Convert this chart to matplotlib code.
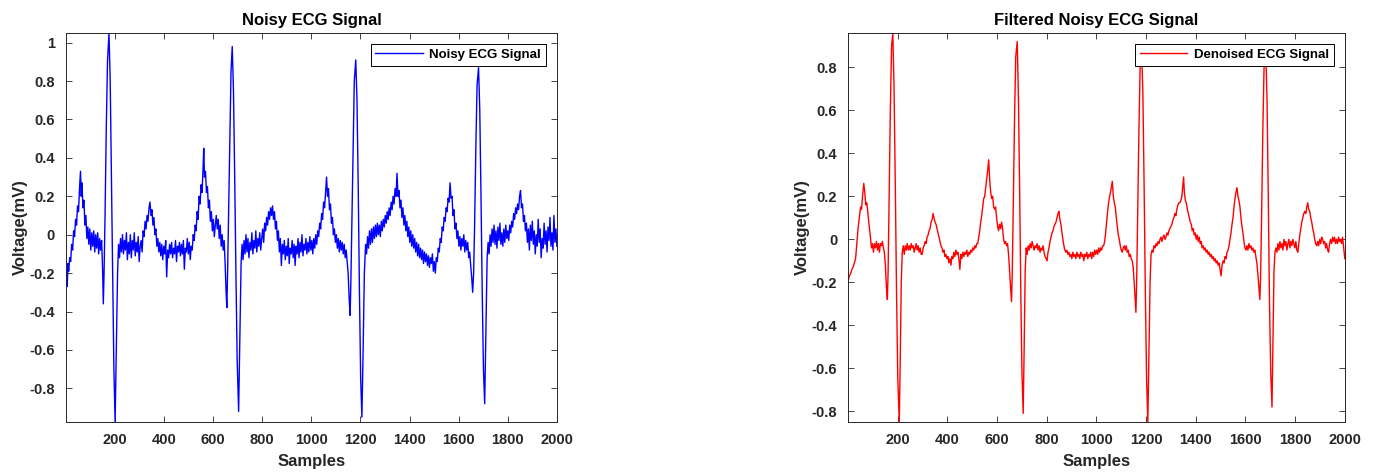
import matplotlib
matplotlib.use("Agg")
import matplotlib.pyplot as plt
from matplotlib.ticker import FormatStrFormatter

plt.rcParams['font.family'] = ['Liberation Sans', 'DejaVu Sans']
plt.rcParams['font.weight'] = 'bold'
plt.rcParams['axes.unicode_minus'] = False

# ---- noisy ECG (sample, mV) ----
noisy_pts = [
    (1, -0.16), (4, -0.22), (6, -0.27), (9, -0.15), (12, -0.19), (16, -0.12), (20, -0.14), (24, -0.05),
    (28, -0.08), (32, 0.02), (36, -0.01), (40, 0.08), (44, 0.05), (48, 0.15), (52, 0.12), (56, 0.24),
    (60, 0.33), (63, 0.2), (66, 0.27), (70, 0.14), (74, 0.18), (78, 0.05), (82, 0.1), (86, -0.02),
    (90, 0.04), (94, -0.05), (98, 0.03), (102, -0.08), (106, 0.01), (110, -0.06), (114, 0.02), (118, -0.09),
    (122, 0.0), (126, -0.07), (130, 0.01), (134, -0.1), (138, -0.02), (142, -0.08), (146, -0.03), (150, -0.18),
    (153, -0.36), (156, -0.2), (160, 0.1), (165, 0.55), (170, 0.9), (176, 1.05), (181, 0.8), (186, 0.3),
    (191, -0.2), (196, -0.7), (201, -0.975), (206, -0.6), (211, -0.2), (215, -0.05), (219, -0.12), (223, -0.02),
    (227, -0.09), (231, 0.0), (235, -0.1), (239, -0.03), (243, -0.08), (247, 0.01), (251, -0.13), (255, -0.04),
    (259, -0.1), (263, 0.0), (267, -0.12), (271, -0.03), (275, -0.08), (279, 0.01), (283, -0.11), (287, -0.04),
    (291, -0.09), (295, -0.01), (299, -0.14), (303, -0.06), (307, -0.03), (311, -0.09), (315, 0.02), (319, -0.01),
    (323, 0.07), (327, 0.03), (331, 0.1), (335, 0.07), (339, 0.14), (343, 0.17), (347, 0.1), (351, 0.13),
    (355, 0.05), (359, 0.09), (363, 0.0), (367, 0.03), (371, -0.06), (375, -0.02), (379, -0.09), (383, -0.04),
    (387, -0.11), (391, -0.05), (395, -0.13), (399, -0.06), (403, -0.1), (407, -0.03), (411, -0.22), (415, -0.08),
    (419, -0.12), (423, -0.05), (427, -0.1), (431, -0.04), (435, -0.12), (439, -0.07), (443, -0.1), (447, -0.03),
    (451, -0.14), (455, -0.06), (459, -0.09), (463, -0.04), (467, -0.11), (471, -0.05), (475, -0.1), (479, -0.03),
    (483, -0.18), (487, -0.07), (491, -0.09), (495, -0.02), (499, -0.1), (503, -0.04), (507, -0.13), (511, -0.06),
    (515, -0.08), (519, 0.0), (523, -0.03), (527, 0.05), (531, 0.02), (535, 0.12), (539, 0.08), (543, 0.2),
    (547, 0.16), (551, 0.26), (555, 0.22), (559, 0.34), (562, 0.45), (565, 0.3), (569, 0.33), (573, 0.22),
    (577, 0.25), (581, 0.14), (585, 0.18), (589, 0.07), (593, 0.12), (597, 0.02), (601, 0.08), (605, -0.01),
    (609, 0.05), (613, 0.1), (617, 0.03), (621, 0.08), (625, -0.02), (629, 0.05), (633, -0.06), (637, 0.0),
    (641, -0.08), (645, -0.03), (649, -0.15), (653, -0.3), (656, -0.38), (659, -0.2), (663, 0.1), (668, 0.5),
    (673, 0.85), (678, 0.98), (683, 0.75), (688, 0.3), (693, -0.2), (698, -0.65), (704, -0.92), (709, -0.55),
    (714, -0.15), (718, -0.05), (722, -0.13), (726, -0.03), (730, -0.1), (734, 0.0), (738, -0.09), (742, -0.02),
    (746, -0.12), (750, -0.04), (754, -0.08), (758, 0.01), (762, -0.1), (766, -0.03), (770, -0.07), (774, 0.02),
    (778, -0.09), (782, -0.02), (786, -0.06), (790, 0.01), (794, -0.08), (798, -0.02), (802, 0.03), (806, -0.04),
    (810, 0.06), (814, 0.02), (818, 0.09), (822, 0.05), (826, 0.12), (830, 0.08), (834, 0.14), (838, 0.1),
    (842, 0.15), (846, 0.08), (850, 0.12), (854, 0.03), (858, 0.07), (862, -0.03), (866, 0.02), (870, -0.09),
    (874, -0.02), (878, -0.16), (882, -0.05), (886, -0.1), (890, -0.03), (894, -0.13), (898, -0.06), (902, -0.11),
    (906, -0.02), (910, -0.15), (914, -0.07), (918, -0.1), (922, -0.03), (926, -0.12), (930, -0.05), (934, -0.16),
    (938, -0.06), (942, -0.1), (946, -0.02), (950, -0.12), (954, -0.04), (958, -0.09), (962, 0.0), (966, -0.11),
    (970, -0.05), (974, -0.08), (978, -0.02), (982, -0.1), (986, -0.04), (990, -0.09), (994, -0.01), (998, -0.08),
    (1002, -0.03), (1006, -0.1), (1010, -0.02), (1014, -0.07), (1018, 0.0), (1022, -0.05), (1026, 0.02), (1030, -0.01),
    (1034, 0.06), (1038, 0.03), (1042, 0.11), (1046, 0.08), (1050, 0.17), (1054, 0.14), (1058, 0.22), (1062, 0.3),
    (1066, 0.2), (1070, 0.24), (1074, 0.13), (1078, 0.16), (1082, 0.06), (1086, 0.09), (1090, 0.0), (1094, 0.03),
    (1098, -0.04), (1102, 0.0), (1106, -0.07), (1110, -0.02), (1114, -0.09), (1118, -0.03), (1122, -0.08), (1126, -0.04),
    (1130, -0.1), (1134, -0.05), (1138, -0.12), (1142, -0.08), (1146, -0.14), (1150, -0.2), (1154, -0.33), (1158, -0.42),
    (1161, -0.25), (1165, 0.05), (1170, 0.45), (1175, 0.8), (1181, 0.91), (1186, 0.7), (1191, 0.25), (1196, -0.3),
    (1201, -0.75), (1206, -0.95), (1211, -0.6), (1216, -0.2), (1221, -0.05), (1225, -0.1), (1229, -0.01), (1233, -0.07),
    (1237, 0.02), (1241, -0.05), (1245, 0.03), (1249, -0.04), (1253, 0.04), (1257, -0.02), (1261, 0.05), (1265, -0.01),
    (1269, 0.06), (1273, 0.0), (1277, 0.05), (1281, -0.01), (1285, 0.07), (1289, 0.02), (1293, 0.08), (1297, 0.04),
    (1301, 0.1), (1305, 0.06), (1309, 0.12), (1313, 0.08), (1317, 0.14), (1321, 0.1), (1325, 0.17), (1329, 0.13),
    (1333, 0.2), (1337, 0.16), (1341, 0.24), (1345, 0.2), (1349, 0.32), (1353, 0.2), (1357, 0.23), (1361, 0.14),
    (1365, 0.18), (1369, 0.09), (1373, 0.14), (1377, 0.05), (1381, 0.1), (1385, 0.02), (1389, 0.07), (1393, -0.01),
    (1397, 0.04), (1401, -0.04), (1405, 0.02), (1409, -0.06), (1413, 0.0), (1417, -0.07), (1421, -0.02), (1425, -0.09),
    (1429, -0.04), (1433, -0.11), (1437, -0.05), (1441, -0.12), (1445, -0.07), (1449, -0.13), (1453, -0.08), (1457, -0.15),
    (1461, -0.09), (1465, -0.14), (1469, -0.1), (1473, -0.16), (1477, -0.11), (1481, -0.17), (1485, -0.12), (1489, -0.15),
    (1493, -0.1), (1497, -0.19), (1501, -0.14), (1505, -0.2), (1509, -0.12), (1513, -0.14), (1517, -0.07), (1521, -0.09),
    (1525, -0.02), (1529, -0.04), (1533, 0.04), (1537, 0.02), (1541, 0.09), (1545, 0.07), (1549, 0.14), (1553, 0.12),
    (1557, 0.19), (1561, 0.17), (1565, 0.27), (1569, 0.19), (1573, 0.2), (1577, 0.1), (1581, 0.13), (1585, 0.03),
    (1589, 0.06), (1593, -0.02), (1597, 0.02), (1601, -0.06), (1605, -0.01), (1609, -0.08), (1613, -0.02), (1617, -0.06),
    (1621, 0.0), (1625, -0.09), (1629, -0.03), (1633, -0.08), (1637, -0.04), (1641, -0.12), (1645, -0.09), (1649, -0.16),
    (1653, -0.22), (1657, -0.3), (1661, -0.2), (1665, 0.05), (1670, 0.45), (1675, 0.78), (1681, 0.87), (1686, 0.65),
    (1691, 0.2), (1696, -0.3), (1701, -0.7), (1706, -0.88), (1711, -0.5), (1716, -0.12), (1720, -0.04), (1724, -0.1),
    (1728, 0.0), (1732, -0.06), (1736, 0.03), (1740, -0.04), (1744, 0.05), (1748, -0.05), (1752, 0.02), (1756, -0.07),
    (1760, 0.04), (1764, -0.03), (1768, 0.06), (1772, -0.05), (1776, 0.01), (1780, -0.06), (1784, 0.03), (1788, -0.04),
    (1792, 0.05), (1796, -0.02), (1800, 0.02), (1804, -0.03), (1808, 0.05), (1812, 0.01), (1816, 0.07), (1820, 0.04),
    (1824, 0.11), (1828, 0.08), (1832, 0.14), (1836, 0.11), (1840, 0.16), (1844, 0.13), (1848, 0.2), (1852, 0.23),
    (1856, 0.14), (1860, 0.16), (1864, 0.07), (1868, 0.1), (1872, 0.02), (1876, 0.06), (1880, -0.04), (1884, 0.03),
    (1888, -0.08), (1892, 0.05), (1896, -0.03), (1900, 0.07), (1904, -0.05), (1908, 0.02), (1912, -0.1), (1916, 0.0),
    (1920, -0.06), (1924, 0.08), (1928, -0.04), (1932, 0.03), (1936, -0.12), (1940, -0.02), (1944, -0.07), (1948, 0.06),
    (1952, -0.05), (1956, 0.02), (1960, -0.09), (1964, 0.04), (1968, -0.03), (1972, 0.09), (1976, -0.06), (1980, 0.01),
    (1984, -0.08), (1988, 0.1), (1992, -0.04), (1996, 0.03), (2000, -0.06),
]

# ---- denoised ECG (sample, mV) ----
denoised_pts = [
    (1, -0.19), (5, -0.17), (10, -0.16), (15, -0.14), (20, -0.13), (25, -0.11), (30, -0.09), (35, -0.02),
    (40, 0.05), (45, 0.1), (50, 0.15), (54, 0.14), (58, 0.2), (63, 0.26), (67, 0.22), (71, 0.16),
    (75, 0.17), (79, 0.13), (84, 0.07), (89, 0.02), (94, -0.04), (98, -0.02), (102, -0.06), (106, -0.02),
    (110, -0.04), (114, -0.01), (118, -0.05), (122, -0.02), (126, -0.06), (130, -0.02), (134, -0.03), (138, -0.01),
    (142, -0.04), (146, -0.06), (150, -0.12), (154, -0.22), (158, -0.28), (161, -0.15), (165, 0.2), (170, 0.6),
    (175, 0.9), (180, 0.96), (185, 0.7), (190, 0.25), (195, -0.25), (200, -0.65), (206, -0.85), (210, -0.55),
    (214, -0.2), (218, -0.06), (222, -0.03), (226, -0.07), (230, -0.03), (234, -0.05), (238, -0.02), (242, -0.05),
    (246, -0.03), (250, -0.05), (254, -0.02), (258, -0.04), (262, -0.03), (266, -0.06), (270, -0.04), (274, -0.02),
    (278, -0.05), (282, -0.03), (286, -0.06), (290, -0.04), (294, -0.07), (298, -0.07), (302, -0.04), (306, -0.03),
    (310, -0.01), (314, -0.02), (318, 0.01), (322, 0.02), (326, 0.04), (330, 0.05), (334, 0.08), (338, 0.09),
    (342, 0.12), (346, 0.1), (350, 0.08), (354, 0.07), (358, 0.05), (362, 0.03), (366, 0.01), (370, -0.01),
    (374, -0.03), (378, -0.04), (382, -0.06), (386, -0.05), (390, -0.08), (394, -0.07), (398, -0.09), (402, -0.08),
    (406, -0.11), (410, -0.09), (414, -0.12), (418, -0.08), (422, -0.09), (426, -0.06), (430, -0.08), (434, -0.05),
    (438, -0.07), (442, -0.06), (446, -0.09), (450, -0.14), (454, -0.07), (458, -0.09), (462, -0.06), (466, -0.08),
    (470, -0.06), (474, -0.07), (478, -0.05), (482, -0.08), (486, -0.06), (490, -0.07), (494, -0.05), (498, -0.06),
    (502, -0.04), (506, -0.05), (510, -0.03), (514, -0.04), (518, -0.02), (522, -0.02), (526, 0.01), (530, 0.04),
    (534, 0.08), (538, 0.11), (542, 0.15), (546, 0.19), (550, 0.2), (554, 0.24), (558, 0.28), (562, 0.32),
    (566, 0.37), (570, 0.28), (574, 0.22), (578, 0.19), (582, 0.2), (586, 0.15), (590, 0.14), (594, 0.15),
    (598, 0.1), (602, 0.06), (606, 0.04), (610, 0.07), (614, 0.05), (618, 0.08), (622, 0.05), (626, 0.0),
    (630, -0.02), (634, -0.01), (638, -0.03), (642, -0.02), (646, -0.07), (650, -0.14), (654, -0.22), (658, -0.29),
    (661, -0.16), (665, 0.15), (670, 0.55), (675, 0.85), (681, 0.92), (686, 0.65), (691, 0.2), (696, -0.3),
    (700, -0.62), (705, -0.81), (709, -0.5), (713, -0.15), (717, -0.04), (721, -0.07), (725, -0.03), (729, -0.05),
    (733, -0.02), (737, -0.04), (741, -0.01), (745, -0.03), (749, -0.05), (753, -0.03), (757, -0.04), (761, -0.02),
    (765, -0.05), (769, -0.03), (773, -0.06), (777, -0.04), (781, -0.05), (785, -0.03), (789, -0.06), (793, -0.08),
    (797, -0.09), (801, -0.1), (805, -0.06), (809, -0.04), (813, -0.01), (817, 0.01), (821, 0.03), (825, 0.04),
    (829, 0.06), (833, 0.07), (837, 0.08), (841, 0.1), (845, 0.12), (849, 0.13), (853, 0.09), (857, 0.07),
    (861, 0.03), (865, 0.0), (869, -0.03), (873, -0.05), (877, -0.06), (881, -0.05), (885, -0.07), (889, -0.06),
    (893, -0.08), (897, -0.07), (901, -0.09), (905, -0.06), (909, -0.08), (913, -0.07), (917, -0.09), (921, -0.06),
    (925, -0.08), (929, -0.07), (933, -0.09), (937, -0.06), (941, -0.08), (945, -0.07), (949, -0.1), (953, -0.07),
    (957, -0.08), (961, -0.06), (965, -0.09), (969, -0.07), (973, -0.08), (977, -0.06), (981, -0.09), (985, -0.06),
    (989, -0.08), (993, -0.05), (997, -0.07), (1001, -0.05), (1005, -0.07), (1009, -0.04), (1013, -0.06), (1017, -0.04),
    (1021, -0.05), (1025, -0.03), (1029, -0.03), (1033, -0.01), (1037, 0.03), (1041, 0.08), (1045, 0.13), (1049, 0.17),
    (1053, 0.2), (1057, 0.22), (1061, 0.25), (1064, 0.27), (1068, 0.2), (1072, 0.17), (1076, 0.15), (1080, 0.1),
    (1084, 0.06), (1088, 0.02), (1092, 0.0), (1096, -0.03), (1100, -0.05), (1104, -0.06), (1108, -0.04), (1112, -0.03),
    (1116, -0.05), (1120, -0.03), (1124, -0.06), (1128, -0.05), (1132, -0.08), (1136, -0.07), (1140, -0.09), (1144, -0.1),
    (1148, -0.13), (1152, -0.2), (1156, -0.28), (1159, -0.34), (1162, -0.2), (1166, 0.1), (1171, 0.5), (1176, 0.8),
    (1182, 0.88), (1187, 0.68), (1192, 0.25), (1197, -0.25), (1202, -0.65), (1207, -0.85), (1212, -0.5), (1216, -0.2),
    (1220, -0.07), (1224, -0.05), (1228, -0.06), (1232, -0.03), (1236, -0.04), (1240, -0.02), (1244, -0.03), (1248, -0.01),
    (1252, -0.02), (1256, 0.0), (1260, 0.01), (1264, -0.01), (1268, 0.01), (1272, 0.02), (1276, 0.0), (1280, 0.01),
    (1284, 0.03), (1288, 0.02), (1292, 0.04), (1296, 0.05), (1300, 0.06), (1304, 0.07), (1308, 0.09), (1312, 0.1),
    (1316, 0.12), (1320, 0.11), (1324, 0.14), (1328, 0.16), (1332, 0.17), (1336, 0.17), (1340, 0.18), (1344, 0.2),
    (1348, 0.25), (1351, 0.29), (1354, 0.22), (1358, 0.18), (1362, 0.17), (1366, 0.14), (1370, 0.12), (1374, 0.1),
    (1378, 0.08), (1382, 0.07), (1386, 0.04), (1390, 0.05), (1394, 0.02), (1398, 0.03), (1402, 0.0), (1406, 0.02),
    (1410, -0.01), (1414, 0.01), (1418, -0.02), (1422, -0.01), (1426, -0.04), (1430, -0.03), (1434, -0.05), (1438, -0.04),
    (1442, -0.06), (1446, -0.05), (1450, -0.07), (1454, -0.06), (1458, -0.08), (1462, -0.07), (1466, -0.09), (1470, -0.08),
    (1474, -0.1), (1478, -0.09), (1482, -0.11), (1486, -0.1), (1490, -0.12), (1494, -0.11), (1498, -0.14), (1502, -0.17),
    (1506, -0.12), (1510, -0.1), (1514, -0.11), (1518, -0.08), (1522, -0.09), (1526, -0.06), (1530, -0.05), (1534, -0.03),
    (1538, 0.0), (1542, 0.03), (1546, 0.07), (1550, 0.1), (1554, 0.15), (1558, 0.19), (1562, 0.22), (1566, 0.24),
    (1570, 0.2), (1574, 0.18), (1578, 0.15), (1582, 0.1), (1586, 0.06), (1590, 0.03), (1594, -0.01), (1598, -0.04),
    (1602, -0.05), (1606, -0.03), (1610, -0.05), (1614, -0.02), (1618, -0.04), (1622, -0.03), (1626, -0.05), (1630, -0.04),
    (1634, -0.06), (1638, -0.05), (1642, -0.08), (1646, -0.11), (1650, -0.16), (1654, -0.22), (1658, -0.28), (1661, -0.18),
    (1665, 0.1), (1670, 0.5), (1675, 0.8), (1682, 0.87), (1687, 0.65), (1692, 0.2), (1697, -0.3), (1702, -0.62),
    (1707, -0.78), (1711, -0.45), (1715, -0.15), (1719, -0.06), (1723, -0.04), (1727, -0.06), (1731, -0.02), (1735, -0.05),
    (1739, -0.01), (1743, -0.04), (1747, -0.02), (1751, -0.05), (1755, 0.0), (1759, -0.03), (1763, -0.01), (1767, -0.05),
    (1771, -0.02), (1775, 0.0), (1779, -0.04), (1783, -0.01), (1787, -0.03), (1791, 0.0), (1795, -0.02), (1799, -0.04),
    (1803, -0.01), (1807, -0.05), (1811, -0.06), (1815, -0.02), (1819, 0.02), (1823, 0.05), (1827, 0.08), (1831, 0.1),
    (1835, 0.12), (1839, 0.13), (1843, 0.12), (1847, 0.15), (1851, 0.17), (1855, 0.14), (1859, 0.13), (1863, 0.1),
    (1867, 0.08), (1871, 0.05), (1875, 0.03), (1879, 0.0), (1883, -0.02), (1887, -0.03), (1891, -0.01), (1895, -0.03),
    (1899, 0.0), (1903, -0.02), (1907, 0.01), (1911, 0.0), (1915, -0.02), (1919, -0.01), (1923, -0.04), (1927, -0.02),
    (1931, -0.05), (1935, -0.06), (1939, -0.02), (1943, 0.0), (1947, -0.02), (1951, 0.01), (1955, -0.01), (1959, 0.01),
    (1963, -0.02), (1967, 0.0), (1971, -0.02), (1975, 0.01), (1979, -0.01), (1983, 0.0), (1987, -0.02), (1991, 0.01),
    (1995, -0.03), (2000, -0.09),
]

noisy_x = [p[0] for p in noisy_pts]
noisy_y = [p[1] for p in noisy_pts]
denoised_x = [p[0] for p in denoised_pts]
denoised_y = [p[1] for p in denoised_pts]

x_ticks = [200, 400, 600, 800, 1000, 1200, 1400, 1600, 1800, 2000]
noisy_yticks = [-0.8, -0.6, -0.4, -0.2, 0, 0.2, 0.4, 0.6, 0.8, 1]
denoised_yticks = [-0.8, -0.6, -0.4, -0.2, 0, 0.2, 0.4, 0.6, 0.8]

TXT = '#262626'

fig = plt.figure(figsize=(13.75, 4.72), dpi=100)
ax1 = fig.add_axes([0.048, 0.106, 0.357, 0.824])
ax2 = fig.add_axes([0.617, 0.106, 0.361, 0.824])


def style_axis(ax, x, y, color, label, title, yticks):
    ax.plot(x, y, color=color, linewidth=1.0, label=label)
    ax.set_xlim(1, 2000)
    ax.set_ylim(min(y), max(y))
    ax.set_xticks(x_ticks)
    ax.set_yticks(yticks)
    ax.yaxis.set_major_formatter(FormatStrFormatter('%g'))
    ax.tick_params(direction='in', top=True, right=True, length=4, width=0.6,
                   labelsize=10.5, colors=TXT)
    ax.tick_params(axis='y', pad=8)
    ax.tick_params(axis='x', pad=8)
    for s in ax.spines.values():
        s.set_color(TXT)
        s.set_linewidth(0.7)
    ax.set_title(title, fontsize=12, fontweight='bold', color='black', pad=6)
    ax.set_xlabel('Samples', fontsize=12, fontweight='bold', color=TXT, labelpad=5)
    ax.set_ylabel('Voltage(mV)', fontsize=12, fontweight='bold', color=TXT, labelpad=1)
    leg = ax.legend(loc='upper right', fontsize=9.5, handlelength=3.6, fancybox=False,
                    framealpha=1, borderpad=0.35, borderaxespad=0.85, handletextpad=0.5)
    leg.get_frame().set_edgecolor('black')
    leg.get_frame().set_linewidth(0.7)
    for t in leg.get_texts():
        t.set_fontweight('bold')


style_axis(ax1, noisy_x, noisy_y, '#0000ff', 'Noisy ECG Signal', 'Noisy ECG Signal', noisy_yticks)
style_axis(ax2, denoised_x, denoised_y, '#ff0000', 'Denoised ECG Signal', 'Filtered Noisy ECG Signal', denoised_yticks)

fig.savefig('out.png', dpi=100)
